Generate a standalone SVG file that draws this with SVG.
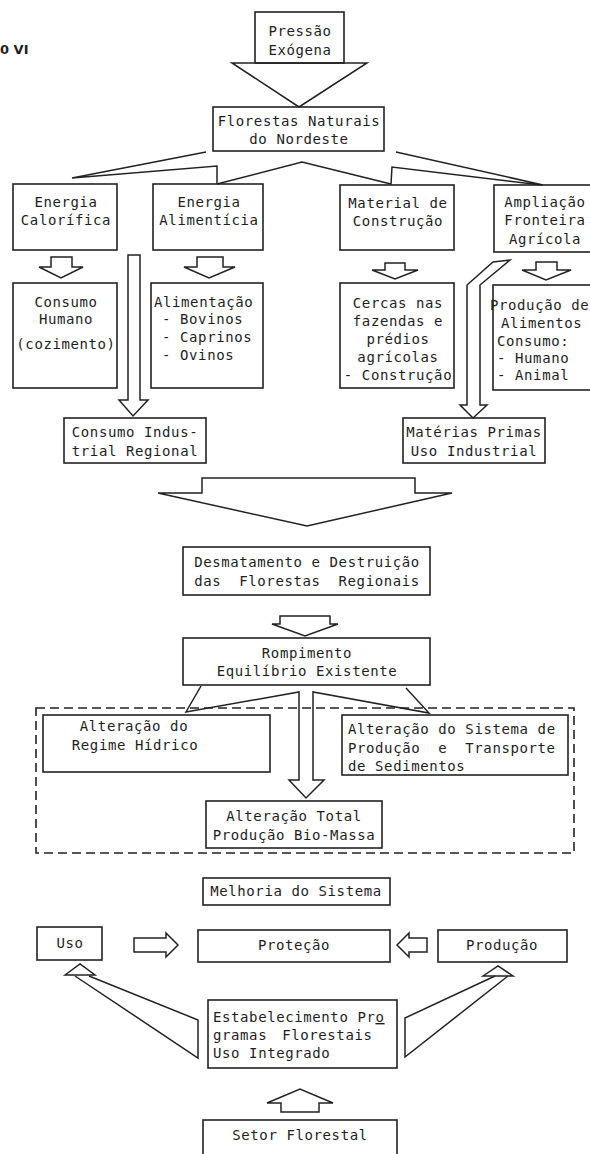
<svg xmlns="http://www.w3.org/2000/svg" width="590" height="1154" viewBox="0 0 590 1154">
<style>
.b{fill:none;stroke:#222;stroke-width:1.6}
.a{fill:none;stroke:#222;stroke-width:1.5;stroke-linejoin:miter}
.t{font-family:"DejaVu Sans Mono","Liberation Mono",monospace;font-size:14px;letter-spacing:0.6px;fill:#1e1e1e}
.c{text-anchor:middle}
.d{fill:none;stroke:#222;stroke-width:1.6;stroke-dasharray:9 5}
</style>
<rect width="590" height="1154" fill="#fff"/>
<text x="0" y="54" style="font-family:'DejaVu Sans',sans-serif;font-weight:bold;font-size:13px;fill:#1e1e1e">0 VI</text>

<g id="connectors">
<polygon class="a" points="232,63 367,63 299,107"/>
<path class="a" d="M206,152 L72,178 L217,166 L217,184 M217,184 L302,162 L391,184 L392,167 L541,185 M396,152 L543,185"/>
<polygon class="a" points="51,257 72,257 72,267 83,267 61,278 39,267 51,267"/>
<polygon class="a" points="197,257 223,257 223,267 235,267 209,278 184,267 197,267"/>
<polygon class="a" points="385,263 405,263 405,270 418,270 395,279 372,270 385,270"/>
<polygon class="a" points="536,262 557,262 557,270 571,270 546,280 522,270 536,270"/>
<polygon class="a" points="128,255 140,255 140,400 148,400 133,416 119,400 128,400"/>
<polygon class="a" points="493,262 510,260 480,285 480,405 487,405 473,418 460,405 467,405 467,285"/>
<polygon class="a" points="202,478 415,478 415,493 452,493 307,526 158,493 202,493"/>
<polygon class="a" points="280,616 330,616 330,624 338,624 305,636 272,624 280,624"/>
<path class="a" d="M201,686 L186,712 L299,692 L299,780 L289,780 L306,798 L324,780 L313,780 L313,692 L429,713 L406,688"/>
<polygon class="a" points="134,938 166,938 166,933 178,945 166,957 166,952 134,952"/>
<polygon class="a" points="427,938 409,938 409,933 397,945 409,957 409,952 427,952"/>
<polygon class="a" points="65,975 80,964 95,975"/>
<path class="a" d="M75,976 L198,1058 L198,1020 L89,976"/>
<polygon class="a" points="483,976 498,966 513,976"/>
<path class="a" d="M508,976 L405,1057 L405,1018 L495,976"/>
<polygon class="a" points="281,1112 319,1112 319,1103 333,1103 300,1089 267,1103 281,1103"/>
</g>

<g id="n-pressao"><rect class="b" x="255" y="12" width="89" height="51"/>
<text class="t c" x="300" y="36">Pressão</text><text class="t c" x="300" y="55">Exógena</text></g>

<g id="n-florestas"><rect class="b" x="213" y="107" width="171" height="44"/>
<text class="t c" x="299" y="126">Florestas Naturais</text><text class="t c" x="299" y="144">do Nordeste</text></g>

<g id="n-calorifica"><rect class="b" x="13" y="184" width="104" height="66"/>
<text class="t c" x="66" y="207">Energia</text><text class="t c" x="66" y="225">Calorífica</text></g>

<g id="n-alimenticia"><rect class="b" x="153" y="184" width="110" height="66"/>
<text class="t c" x="209" y="207">Energia</text><text class="t c" x="209" y="225">Alimentícia</text></g>

<g id="n-material"><rect class="b" x="340" y="185" width="114" height="65"/>
<text class="t c" x="398" y="208">Material de</text><text class="t c" x="398" y="226">Construção</text></g>

<g id="n-ampliacao"><rect class="b" x="494" y="185" width="110" height="67"/>
<text class="t c" x="545" y="207">Ampliação</text><text class="t c" x="545" y="225">Fronteira</text><text class="t c" x="545" y="244">Agrícola</text></g>

<g id="n-consumo-humano"><rect class="b" x="13" y="283" width="104" height="105"/>
<text class="t c" x="66" y="307">Consumo</text><text class="t c" x="66" y="324">Humano</text><text class="t c" x="66" y="349">(cozimento)</text></g>

<g id="n-alimentacao"><rect class="b" x="151" y="283" width="112" height="105"/>
<text class="t" x="154" y="307">Alimentação</text><text class="t" x="162" y="324">- Bovinos</text><text class="t" x="162" y="342">- Caprinos</text><text class="t" x="162" y="360">- Ovinos</text></g>

<g id="n-cercas"><rect class="b" x="340" y="283" width="114" height="105"/>
<text class="t c" x="398" y="308">Cercas nas</text><text class="t c" x="398" y="326">fazendas e</text><text class="t c" x="398" y="344">prédios</text><text class="t c" x="398" y="362">agrícolas</text><text class="t c" x="398" y="380">- Construção</text></g>

<g id="n-producao-alimentos"><rect class="b" x="493" y="285" width="110" height="105"/>
<text class="t" x="490" y="310">Produção de</text><text class="t" x="501" y="328">Alimentos</text><text class="t" x="497" y="346">Consumo:</text><text class="t" x="497" y="363">- Humano</text><text class="t" x="497" y="380">- Animal</text></g>

<g id="n-consumo-industrial"><rect class="b" x="64" y="418" width="142" height="45"/>
<text class="t c" x="135" y="437">Consumo Indus-</text><text class="t c" x="135" y="456">trial Regional</text></g>

<g id="n-materias"><rect class="b" x="403" y="418" width="142" height="45"/>
<text class="t c" x="474" y="437">Matérias Primas</text><text class="t c" x="474" y="456">Uso Industrial</text></g>

<g id="n-desmatamento"><rect class="b" x="183" y="547" width="247" height="48"/>
<text class="t c" x="307" y="567">Desmatamento e Destruição</text><text class="t c" x="307" y="586" word-spacing="9">das Florestas Regionais</text></g>

<g id="n-rompimento"><rect class="b" x="183" y="638" width="247" height="47"/>
<text class="t c" x="307" y="658">Rompimento</text><text class="t c" x="307" y="676">Equilíbrio Existente</text></g>

<g id="n-dashed"><rect class="d" x="36" y="708" width="538" height="145"/></g>

<g id="n-regime"><rect class="b" x="43" y="715" width="227" height="57"/>
<text class="t c" x="134" y="731">Alteração do</text><text class="t c" x="135" y="750">Regime Hídrico</text></g>

<g id="n-sistema"><rect class="b" x="342" y="715" width="226" height="60"/>
<text class="t" x="348" y="734">Alteração do Sistema de</text><text class="t" x="348" y="753" word-spacing="9">Produção e Transporte</text><text class="t" x="348" y="771">de Sedimentos</text></g>

<g id="n-total"><rect class="b" x="206" y="801" width="176" height="47"/>
<text class="t c" x="294" y="821">Alteração Total</text><text class="t c" x="294" y="840">Produção Bio-Massa</text></g>

<g id="n-melhoria"><rect class="b" x="203" y="878" width="187" height="27"/>
<text class="t c" x="296" y="896">Melhoria do Sistema</text></g>

<g id="n-uso"><rect class="b" x="37" y="927" width="65" height="33"/>
<text class="t c" x="70" y="948">Uso</text></g>

<g id="n-protecao"><rect class="b" x="198" y="930" width="192" height="32"/>
<text class="t c" x="294" y="950">Proteção</text></g>

<g id="n-producao"><rect class="b" x="438" y="930" width="129" height="32"/>
<text class="t c" x="502" y="950">Produção</text></g>

<g id="n-estabelecimento"><rect class="b" x="208" y="1000" width="189" height="68"/>
<text class="t" x="213" y="1022">Estabelecimento Pr<tspan text-decoration="underline">o</tspan></text><text class="t" x="213" y="1040" word-spacing="6">gramas Florestais</text><text class="t" x="213" y="1058">Uso Integrado</text></g>

<g id="n-setor"><rect class="b" x="203" y="1120" width="194" height="40"/>
<text class="t c" x="300" y="1140">Setor Florestal</text></g>
</svg>
